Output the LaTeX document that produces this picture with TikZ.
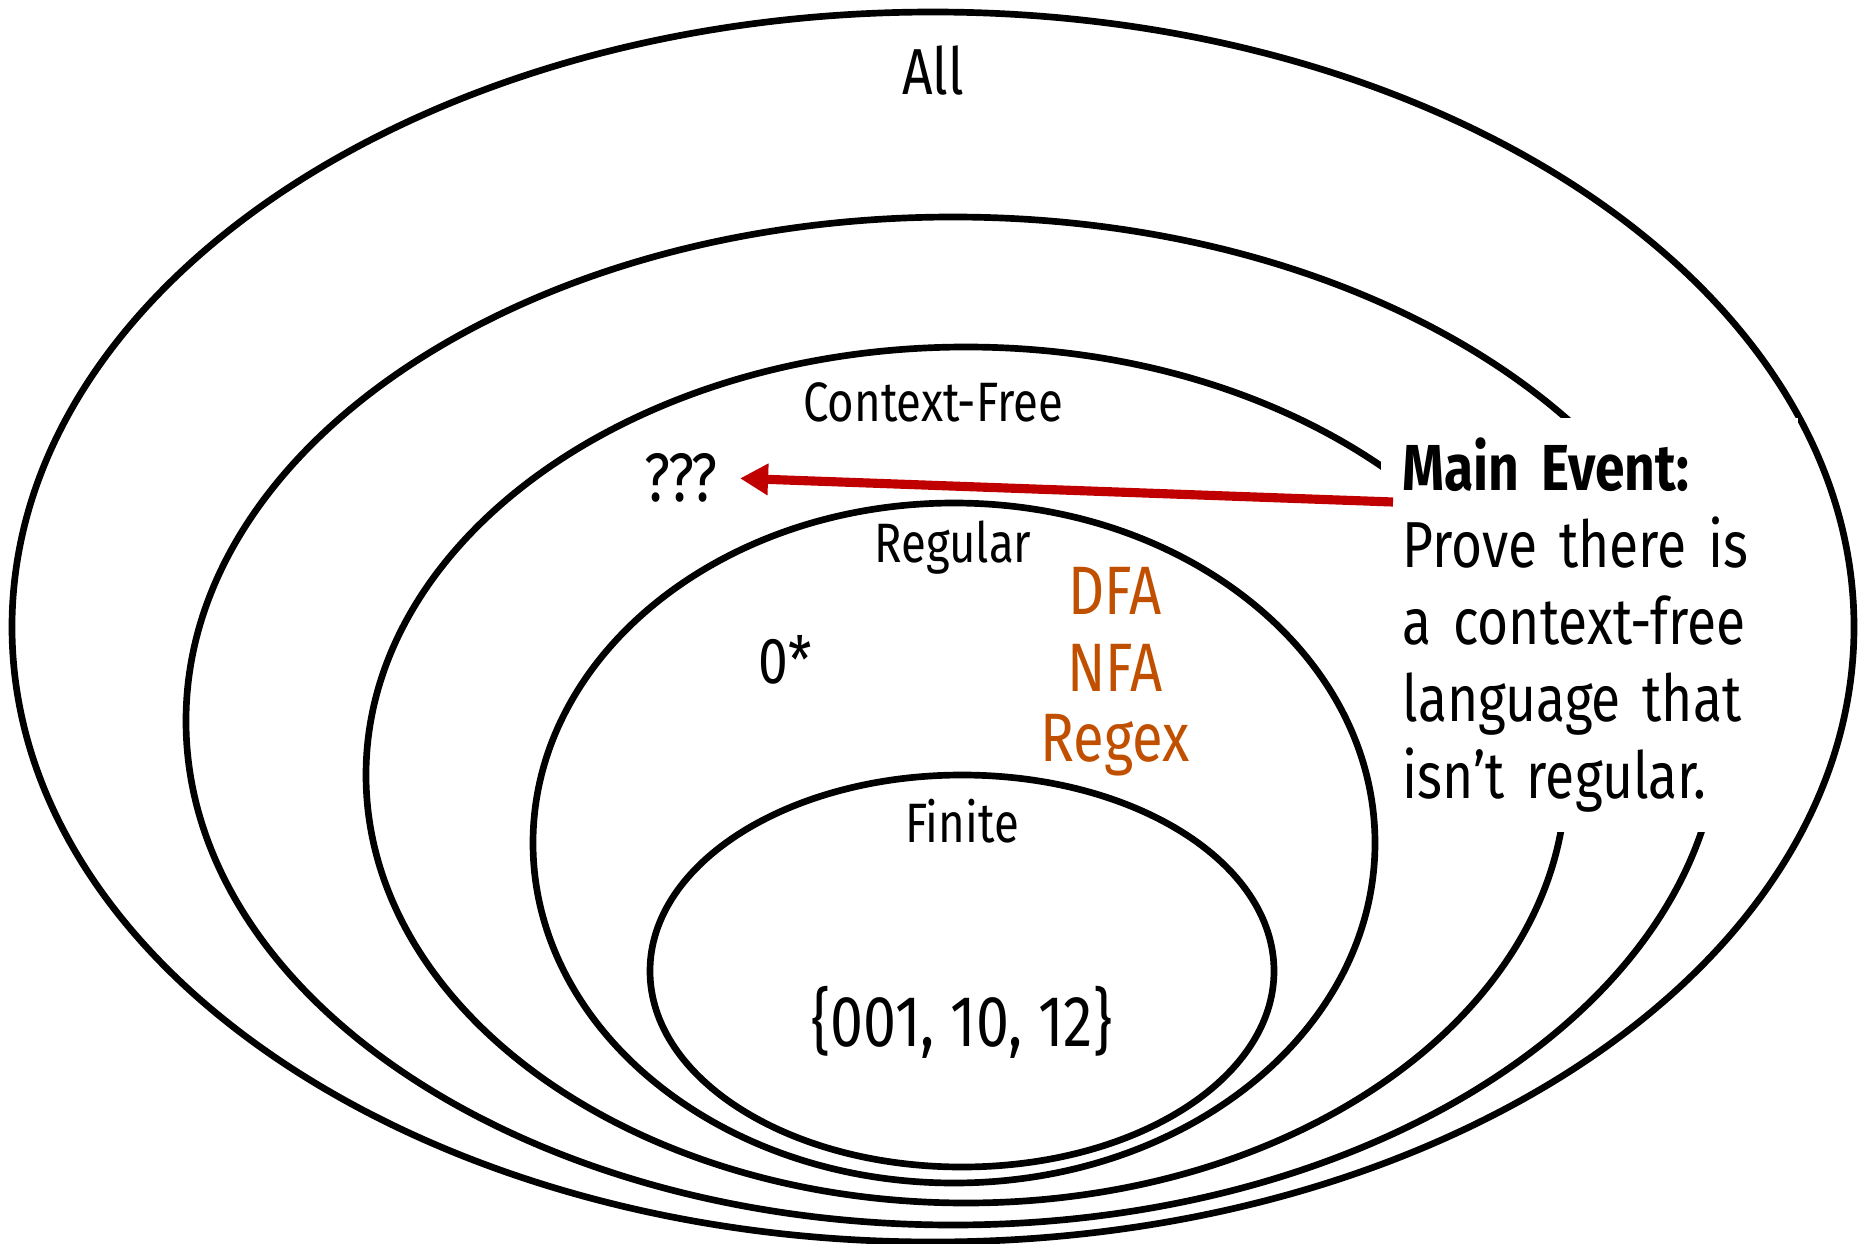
\documentclass[tikz,border=0pt]{standalone}
\usepackage{fontspec}
\setmainfont[FakeStretch=0.82]{Fira Sans}
\usetikzlibrary{arrows.meta}

\definecolor{tipred}{RGB}{192,0,0}
\definecolor{fsaorange}{RGB}{192,80,0}

\begin{document}
\begin{tikzpicture}[x=1cm,y=1cm,
ring/.style={line width=1.9pt},
biglabel/.style={font=\fontsize{18.5}{22}\selectfont},
setlabel/.style={font=\fontsize{15.8}{18}\selectfont},
machine/.style={font=\fontsize{19.5}{22}\selectfont,text=fsaorange}]
\useasboundingbox (0,0) rectangle (18.64,-12.44);
% nested classes of languages
\draw[ring] (9.33,-6.27) ellipse [x radius=9.21, y radius=6.15];
\draw[ring] (9.53,-7.21) ellipse [x radius=7.67, y radius=5.04];
\draw[ring] (9.66,-7.75) ellipse [x radius=6.00, y radius=4.28];
\draw[ring] (9.54,-8.43) ellipse [x radius=4.21, y radius=3.40];
\draw[ring] (9.62,-9.71) ellipse [x radius=3.12, y radius=1.96];

\node[biglabel] (all) at (9.33,-0.71) {All};
\node[setlabel] (cfl) at (9.33,-4.02) {Context-Free};
\node[font=\fontsize{19.5}{22}\selectfont] (qqq) at (6.81,-4.78) {???};
\node[setlabel] (reg) at (9.53,-5.48) {Regular};
\node[biglabel] (star) at (7.85,-6.60) {0*};
\node[machine] (dfa) at (11.15,-5.91) {DFA};
\node[machine] (nfa) at (11.15,-6.68) {NFA};
\node[machine] (rgx) at (11.15,-7.45) {Regex};
\node[setlabel] (fin) at (9.62,-8.21) {Finite};
\node[font=\fontsize{20.5}{24}\selectfont] (fset) at (9.62,-10.22) {\{001, 10, 12\}};

% the open question
\node[fill=white, anchor=north west, inner xsep=0.22cm, inner ysep=0.2cm,
text width=3.73cm, align=left,
font=\fontsize{18.5}{21.9}\selectfont] (event) at (13.80,-4.17)
{\textbf{Main Event:}\\ Prove there is\\ a context-free\\ language that\\ isn’t regular.};
\coordinate (tail) at (13.93,-5.02);
\draw[tipred, line width=2.6pt, -{Triangle[length=0.28cm,width=0.30cm]},
shorten >=0.1cm] (tail) -- (qqq.east);
\end{tikzpicture}
\end{document}
